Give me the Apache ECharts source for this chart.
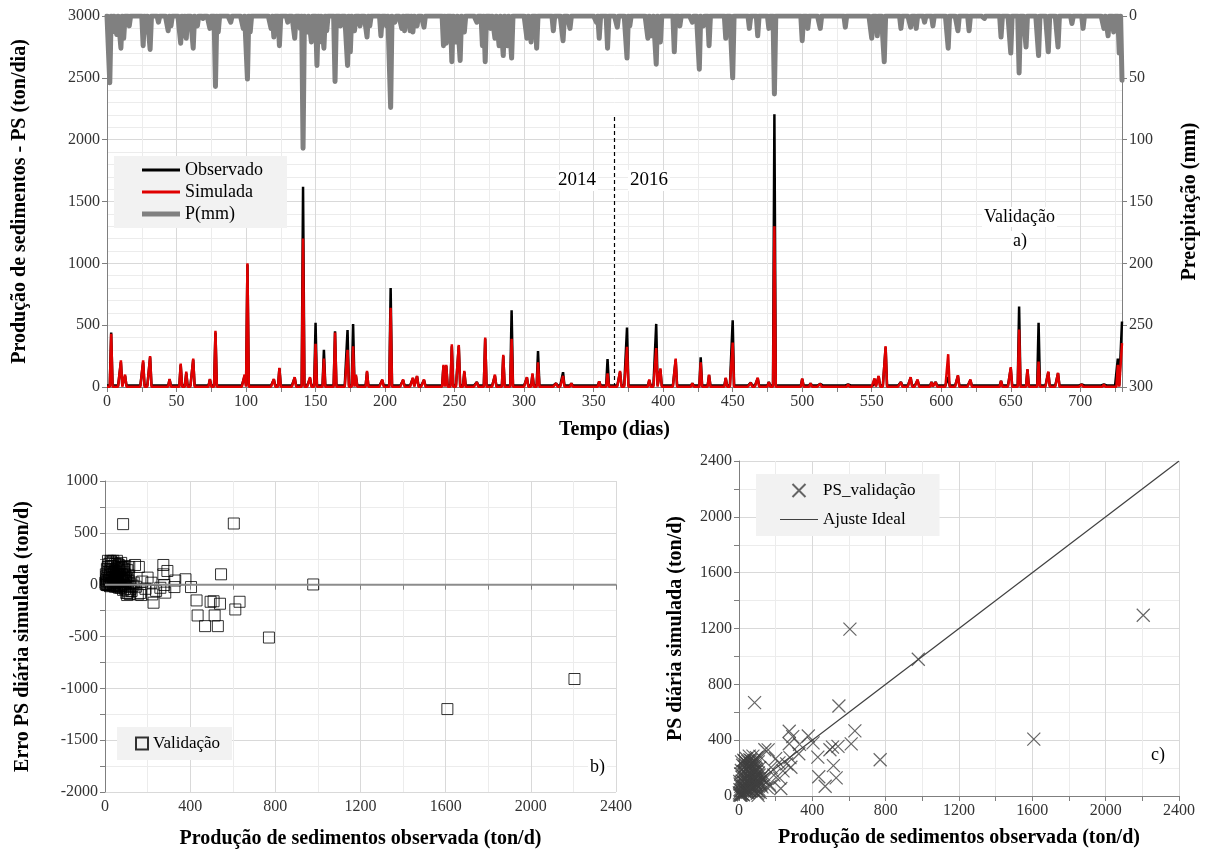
<!DOCTYPE html>
<html>
<head>
<meta charset="utf-8">
<script src="https://cdn.jsdelivr.net/npm/echarts@6/dist/echarts.min.js"></script>
<style>
html, body { margin: 0; padding: 0; background: #fff; }
#main { width: 1208px; height: 854px; }
</style>
</head>
<body>
<div id="main"></div>
<script>
// dados
var nDias = 730;
var baseObs = 12, baseSim = 3;

var picoDias = [3,10,13,26,31,45,53,57,62,74, 78,99,101,120,124,135,141,146,150,156,
  164,173,177,179,187,198,204,213,220,223, 228,242,244,248,253,257,266,272,279,285,
  291,302,306,310,323,328,334,354,360,369, 374,390,395,398,409,421,427,433,445,450,
  463,468,476,480,500,506,513,533,552,555, 560,571,578,583,593,596,605,612,621,643,
  650,656,662,670,677,684,701,717,727,730];
var picoObs = [440,200,90,200,240,60,180,110,220,60, 440,90,990,60,150,75,1620,70,520,300,
  450,460,510,90,120,55,800,55,70,85, 55,170,170,330,330,120,40,390,90,250,
  620,75,100,290,30,120,30,45,225,120, 480,55,510,140,220,30,240,95,70,540,
  35,70,40,2205,65,30,25,20,65,85, 320,40,75,55,40,40,80,90,55,50,
  150,650,140,520,120,110,20,20,230,530];
var picoSim = [430,215,100,215,250,65,190,125,230,65, 455,100,1000,65,155,80,1200,80,350,230,
  440,300,330,100,130,60,640,60,75,90, 60,180,180,345,340,130,40,400,100,260,
  390,80,110,200,30,90,30,45,110,130, 325,60,315,150,230,30,200,100,75,360,
  35,75,40,1300,70,30,25,20,70,90, 330,40,80,60,40,40,265,95,60,50,
  160,465,145,205,125,115,20,20,180,355];

var chuvaDias = [2,4,7,10,12,16,26,28,31,37,44,46,53,55,57,62,65,69,74,78,80,89,98,101,103,
  118,120,124,130,135,139,141,144,147,151,153,156,158,164,168,173,175,178,182,187,189,
  197,201,204,207,212,214,218,220,223,228,242,244,248,251,254,257,266,270,272,276,279,
  282,285,288,291,302,305,309,321,328,333,352,354,360,367,374,376,
  389,392,395,398,408,412,421,426,429,433,445,450,462,468,476,480,500,504,513,531,550,
  554,559,571,578,582,588,594,605,612,620,631,643,650,656,661,670,677,684,694,702,717,
  720,724,728,730];
var chuvaMm = [54,13,15,26,18,8,24,13,27,5,12,8,22,16,18,26,8,2,10,57,13,5,10,51,13,
  10,17,24,5,18,10,107,13,21,40,21,26,12,53,8,40,29,12,8,17,8,
  16,8,74,5,10,12,12,13,8,9,24,22,37,21,36,13,5,24,37,10,18,
  24,32,24,34,18,21,26,12,20,10,5,18,26,9,34,8,
  18,16,39,21,29,8,5,43,8,24,18,50,10,16,10,63,20,10,10,9,18,
  16,37,10,9,10,5,8,26,12,12,2,17,30,46,25,32,29,25,6,10,10,
  16,13,30,52];

// PS observada x simulada (ton/d), validação
var psObs = [85,605,545,978,770,1608,2205,632,612,530,470,515,435,430,496,540,510,404,378,326,
  274,293,274,278,283,228,222,218,200,154,159,141,107,330,240,260,190,
  5,8,10,12,15,18,20,22,25,28,30,32,35,38,40,42,45,48,50,52,55,58,60,62,65,68,70,72,75,78,
  80,82,85,88,90,92,95,98,100,102,105,108,110,112,115,118,120,3,6,9,14,16,24,26,34,36,
  44,46,54,56,64,66,74,76,84,86,94,96,104,106,114,116,2,4,7,11,13,17,19,21,23,27,29,31,
  33,37,39,41,43,47,49,51,53,57,59,61,63,67,69,71,73,77,79,83,87,89,91,93,97,99,
  130,135,125,145,170,165,175];
var psSim = [669,1195,645,980,260,408,1295,467,373,130,70,218,138,278,331,356,350,381,430,303,
  464,425,374,275,206,54,128,237,268,60,330,331,30,370,180,230,150,
  45,18,70,7,135,48,220,102,175,38,250,92,135,28,220,82,175,248,70,142,215,38,170,112,255,68,210,142,45,178,
  240,112,35,208,150,82,275,178,20,122,245,48,150,202,95,128,80,8,86,159,244,16,9,256,244,56,
  39,116,84,286,234,36,114,286,254,96,54,126,4,166,284,26,22,104,4,41,183,107,69,13,143,67,209,31,
  173,107,269,51,153,27,109,201,43,127,259,81,153,197,54,101,243,67,129,173,127,239,91,193,77,149,
  120,155,65,125,70,85,205];

// séries diárias a partir dos picos
var obsDia = [], simDia = [], chuvaDia = [];
var mapObs = {}, mapSim = {}, mapChuva = {};
picoDias.forEach(function (d, i) { mapObs[d] = picoObs[i]; mapSim[d] = picoSim[i]; });
chuvaDias.forEach(function (d, i) { mapChuva[d] = chuvaMm[i]; });
for (var d = 0; d <= nDias; d++) {
  obsDia.push([d, mapObs[d] != null ? mapObs[d] : baseObs]);
  simDia.push([d, mapSim[d] != null ? mapSim[d] : baseSim]);
  chuvaDia.push([d, mapChuva[d] != null ? mapChuva[d] : 0]);
}
var pontosC = psObs.map(function (o, i) { return [o, psSim[i]]; });
var pontosB = psObs.map(function (o, i) { return [o, psSim[i] - o]; });

var fonte = "'Liberation Serif', 'Times New Roman', serif";
var corEixo = '#7f7f7f';

function rotulo(extra) {
  return Object.assign({ fontFamily: fonte, fontSize: 16, color: '#333', margin: 7,
    formatter: function (v) { return String(v); } }, extra || {});
}

function eixo(extra) {
  var base = {
    type: 'value',
    axisLine: { show: true, lineStyle: { color: corEixo, width: 1 } },
    axisTick: { show: true, length: 5, lineStyle: { color: corEixo } },
    minorTick: { show: true, splitNumber: 2, length: 5, lineStyle: { color: corEixo } },
    splitLine: { show: true, lineStyle: { color: '#d9d9d9', width: 1 } },
    minorSplitLine: { show: true, lineStyle: { color: '#ececec', width: 1 } },
    axisLabel: rotulo(),
    nameLocation: 'middle',
    nameTextStyle: { fontFamily: fonte, fontSize: 20, fontWeight: 'bold', color: '#000' }
  };
  return Object.assign(base, extra);
}

function texto(x, y, s, tam) {
  return { type: 'text', left: x, top: y, z: 100,
    style: { text: s, font: tam + 'px ' + fonte, fill: '#000',
      backgroundColor: '#fff', padding: [1, 2] } };
}

var myChart = echarts.init(document.getElementById('main'));

var option = {
  animation: false,
  backgroundColor: '#fff',
  grid: [
    { left: 107, top: 16, width: 1018, height: 371 },
    { left: 105, top: 481, width: 511, height: 311 },
    { left: 739, top: 461, width: 440, height: 335 }
  ],
  xAxis: [
    eixo({ gridIndex: 0, min: 0, max: nDias, interval: 50,
      axisLabel: rotulo({ showMaxLabel: false }),
      name: 'Tempo (dias)', nameGap: 33 }),
    eixo({ gridIndex: 1, min: 0, max: 2400, interval: 400,
      name: 'Produção de sedimentos observada (ton/d)', nameGap: 37 }),
    eixo({ gridIndex: 2, min: 0, max: 2400, interval: 400,
      name: 'Produção de sedimentos observada (ton/d)', nameGap: 32 })
  ],
  yAxis: [
    eixo({ gridIndex: 0, min: 0, max: 3000, interval: 500,
      minorTick: { show: false, splitNumber: 5 },
      name: 'Produção de sedimentos - PS (ton/dia)', nameGap: 77 }),
    eixo({ gridIndex: 0, min: 0, max: 300, interval: 50, inverse: true, position: 'right',
      splitLine: { show: false }, minorSplitLine: { show: false }, minorTick: { show: false },
      name: 'Precipitação (mm)', nameGap: 58 }),
    eixo({ gridIndex: 1, min: -2000, max: 1000, interval: 500,
      name: 'Erro PS diária simulada (ton/d)', nameGap: 72 }),
    eixo({ gridIndex: 2, min: 0, max: 2400, interval: 400,
      name: 'PS diária simulada (ton/d)', nameGap: 53 })
  ],
  legend: [
    { data: [
        { name: 'Observado', icon: 'path://M0,0H38V3H0Z' },
        { name: 'Simulada', icon: 'path://M0,0H38V3H0Z' },
        { name: 'P(mm)', icon: 'path://M0,0H38V5H0Z' }
      ],
      orient: 'vertical', left: 114, top: 156,
      backgroundColor: '#f2f2f2', padding: [5, 24, 5, 28], itemGap: 4,
      itemWidth: 38, itemHeight: 14,
      textStyle: { fontFamily: fonte, fontSize: 18, color: '#000' } },
    { data: ['Validação'], orient: 'vertical', left: 117, top: 727,
      backgroundColor: '#f2f2f2', padding: [8, 12, 8, 18],
      itemWidth: 12, itemHeight: 12,
      textStyle: { fontFamily: fonte, fontSize: 17, color: '#000' } },
    { data: ['PS_validação', { name: 'Ajuste Ideal', icon: 'path://M0,0H38V1.2H0Z' }],
      orient: 'vertical', left: 756, top: 474,
      backgroundColor: '#f2f2f2', padding: [8, 24, 8, 24], itemGap: 12,
      itemWidth: 38, itemHeight: 13,
      textStyle: { fontFamily: fonte, fontSize: 17, color: '#000' } }
  ],
  graphic: [
    texto(556, 170, '2014', 19),
    texto(628, 170, '2016', 19),
    texto(982, 207, 'Validação', 18),
    texto(1011, 231, 'a)', 18),
    texto(588, 757, 'b)', 18),
    texto(1149, 745, 'c)', 18)
  ],
  series: [
    { name: 'P(mm)', type: 'line', xAxisIndex: 0, yAxisIndex: 1, data: chuvaDia,
      showSymbol: false, symbol: 'none', color: '#808080',
      lineStyle: { width: 5, color: '#808080', cap: 'round', join: 'round' } },
    { name: 'divisao', type: 'line', xAxisIndex: 0, yAxisIndex: 0, data: [[365, 0], [365, 2200]],
      symbol: 'none', silent: true,
      lineStyle: { color: '#000', width: 1.2, type: [4, 3] } },
    { name: 'Observado', type: 'line', xAxisIndex: 0, yAxisIndex: 0, data: obsDia,
      symbol: 'none', color: '#000',
      lineStyle: { width: 2.5, color: '#000' } },
    { name: 'Simulada', type: 'line', xAxisIndex: 0, yAxisIndex: 0, data: simDia,
      symbol: 'none', color: '#e00000',
      lineStyle: { width: 2.5, color: '#e00000' } },

    { name: 'zero', type: 'line', xAxisIndex: 1, yAxisIndex: 2, data: [[0, 0], [2400, 0]],
      symbol: 'none', silent: true,
      lineStyle: { color: '#8c8c8c', width: 2 } },
    { name: 'Validação', type: 'scatter', xAxisIndex: 1, yAxisIndex: 2, data: pontosB,
      symbol: 'rect', symbolSize: 11,
      itemStyle: { color: 'rgba(0,0,0,0)', borderColor: '#000', borderWidth: 1 } },

    { name: 'Ajuste Ideal', type: 'line', xAxisIndex: 2, yAxisIndex: 3, data: [[0, 0], [2400, 2400]],
      symbol: 'none', color: '#404040',
      lineStyle: { color: '#404040', width: 1.2 } },
    { name: 'PS_validação', type: 'scatter', xAxisIndex: 2, yAxisIndex: 3, data: pontosC,
      symbol: 'path://M0,0L10,10M10,0L0,10', symbolSize: 13,
      itemStyle: { color: 'rgba(0,0,0,0)', borderColor: '#404040', borderWidth: 1.2 } }
  ]
};

myChart.setOption(option);

window.onresize = () => {
  myChart.resize()
}
</script>
</body>
</html>
